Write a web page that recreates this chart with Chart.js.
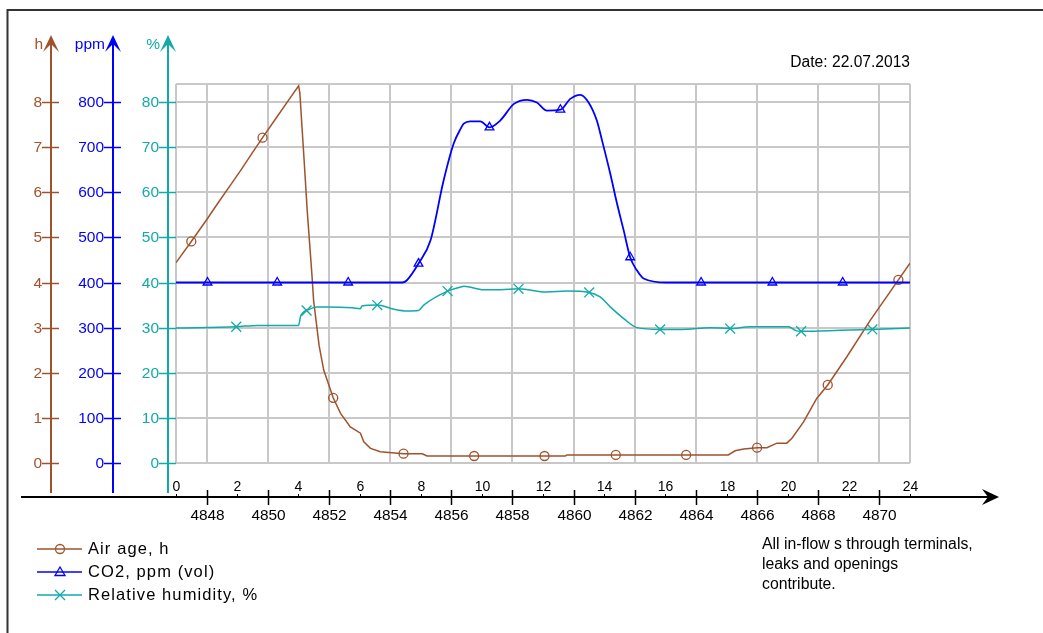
<!DOCTYPE html>
<html>
<head>
<meta charset="utf-8">
<script src="https://cdn.jsdelivr.net/npm/chart.js@4/dist/chart.umd.min.js"></script>
<style>
  html, body { margin: 0; padding: 0; background: #fff; }
  #wrap { width: 1043px; height: 633px; position: relative; }
</style>
</head>
<body>
<div id="wrap"><canvas id="chart"></canvas></div>
<script>
// hours since midnight
const ageHours  = [0, 0.5, 1.03, 1.4, 1.78, 2.11, 2.5, 2.83, 3.31, 3.7, 4.01, 4.05, 4.12, 4.18, 4.29, 4.45, 4.5, 4.68, 4.83, 5.14, 5.38, 5.7, 6.03, 6.14, 6.36, 6.68, 7.44, 8.05, 8.21, 12.73, 12.78, 18.06, 18.28, 18.56, 19.0, 19.32, 19.65, 19.97, 20.14, 20.52, 20.95, 21.31, 21.93, 22.7, 23.62, 24];
const ageValues = [4.44, 4.91, 5.42, 5.79, 6.16, 6.48, 6.88, 7.21, 7.68, 8.06, 8.36, 8.2, 7.44, 6.81, 5.6, 4.12, 3.6, 2.6, 2.06, 1.445, 1.1, 0.8, 0.66, 0.47, 0.325, 0.25, 0.206, 0.206, 0.155, 0.155, 0.18, 0.18, 0.27, 0.31, 0.34, 0.34, 0.44, 0.44, 0.55, 0.91, 1.43, 1.73, 2.35, 3.16, 4.06, 4.43];

const co2Hours  = [0, 7.4, 7.55, 7.93, 8.32, 8.75, 9.08, 9.3, 9.41, 9.62, 9.95, 10.25, 10.6, 11.05, 11.48, 11.8, 12.13, 12.57, 12.89, 13.22, 13.49, 13.76, 13.93, 14.2, 14.42, 14.64, 14.85, 15.07, 15.29, 16.05, 24];
const co2Values = [400, 400, 405, 442, 493, 626, 708, 740, 752, 757, 757, 744, 759, 796, 805, 799, 781, 783, 807, 816, 799, 759, 715, 641, 575, 515, 456, 427, 409, 400, 400];

const rhHours  = [0, 1.97, 2.65, 4.01, 4.07, 4.18, 4.27, 4.61, 4.94, 5.76, 6.03, 6.08, 6.58, 7.12, 7.55, 7.93, 8.1, 8.88, 9.3, 9.41, 10.06, 10.6, 11.2, 12.13, 12.78, 13.51, 13.87, 14.2, 14.64, 15.07, 15.83, 16.54, 17.47, 18.12, 18.77, 20.03, 20.25, 20.44, 21.72, 22.77, 24];
const rhValues = [29.9, 30.2, 30.5, 30.5, 32.4, 33.5, 33.8, 34.6, 34.6, 34.4, 34.2, 34.8, 35.0, 34.1, 33.7, 33.8, 35.0, 38.1, 39.0, 39.2, 38.4, 38.4, 38.6, 37.9, 38.1, 37.8, 36.8, 34.6, 32.0, 30.0, 29.6, 29.6, 30.0, 29.8, 30.2, 30.2, 29.4, 29.2, 29.4, 29.6, 29.9];

// marker positions (symbols along each curve)
const ageMarkHours  = [0.5, 2.83, 5.14, 7.44, 9.75, 12.05, 14.38, 16.68, 19.0, 21.31, 23.62];
const ageMarkValues = [4.91, 7.21, 1.445, 0.206, 0.155, 0.155, 0.18, 0.18, 0.34, 1.73, 4.06];
const co2MarkHours  = [1.03, 3.31, 5.63, 7.93, 10.25, 12.57, 14.85, 17.17, 19.5, 21.8];
const co2MarkValues = [400, 400, 400, 442, 744, 783, 456, 400, 400, 400];
const rhMarkHours  = [1.97, 4.27, 6.58, 8.88, 11.2, 13.51, 15.83, 18.12, 20.44, 22.77];
const rhMarkValues = [30.2, 33.8, 35.0, 38.1, 38.6, 37.8, 29.6, 29.8, 29.2, 29.6];

// axes
const hourLabels = [0, 2, 4, 6, 8, 10, 12, 14, 16, 18, 20, 22, 24];
const absLabels = [4848, 4850, 4852, 4854, 4856, 4858, 4860, 4862, 4864, 4866, 4868, 4870];
const absOffset = 4847;
const gridHours = [0, 1, 3, 5, 7, 9, 11, 13, 15, 17, 19, 21, 23, 24];
const gridRh = [0, 10, 20, 30, 40, 50, 60, 70, 80, 84];
const ageTicks = [0, 1, 2, 3, 4, 5, 6, 7, 8];
const co2Ticks = [0, 100, 200, 300, 400, 500, 600, 700, 800];
const rhTicks = [0, 10, 20, 30, 40, 50, 60, 70, 80];

const seriesNames = ['Air age, h', 'CO2, ppm (vol)', 'Relative humidity, %'];
const noteLines = ['All in-flow s through terminals,', 'leaks and openings', 'contribute.'];
const dateText = 'Date: 22.07.2013';

const BROWN = '#a0522d';
const BLUE = '#0000ff';
const TEAL = '#12aaa8';
const FONT = '"Liberation Sans", Arial, sans-serif';

const pts = (xs, ys) => xs.map((x, i) => ({ x: x, y: ys[i] }));

function lineSet(label, xs, ys, color, axis, width, mode) {
  return {
    label: label, data: pts(xs, ys), yAxisID: axis,
    borderColor: color, borderWidth: width, pointRadius: 0,
    cubicInterpolationMode: mode, fill: false
  };
}
function markSet(xs, ys, color, axis, style, r) {
  return {
    label: '', data: pts(xs, ys), yAxisID: axis, showLine: false,
    pointStyle: style, pointRadius: r, pointBorderWidth: 1.3,
    pointBorderColor: color, pointBackgroundColor: 'rgba(0,0,0,0)',
    borderColor: color
  };
}

function arrowUp(ctx, x, y, color) {
  ctx.fillStyle = color;
  ctx.beginPath();
  ctx.moveTo(x, y);
  ctx.lineTo(x + 8, y + 17);
  ctx.lineTo(x, y + 9);
  ctx.lineTo(x - 8, y + 17);
  ctx.closePath();
  ctx.fill();
}

function drawMark(ctx, style, x, y, color) {
  ctx.strokeStyle = color;
  ctx.lineWidth = 1.3;
  ctx.beginPath();
  if (style === 'circle') {
    ctx.arc(x, y, 4.5, 0, Math.PI * 2);
  } else if (style === 'triangle') {
    ctx.moveTo(x, y - 5);
    ctx.lineTo(x + 5, y + 3.5);
    ctx.lineTo(x - 5, y + 3.5);
    ctx.closePath();
  } else {
    ctx.moveTo(x - 5, y - 5); ctx.lineTo(x + 5, y + 5);
    ctx.moveTo(x + 5, y - 5); ctx.lineTo(x - 5, y + 5);
  }
  ctx.stroke();
}

const decor = {
  id: 'decor',
  afterDraw(chart) {
    const ctx = chart.ctx;
    const xs = chart.scales.x;
    ctx.save();

    // outer frame
    ctx.strokeStyle = '#333';
    ctx.lineWidth = 2;
    ctx.beginPath();
    ctx.moveTo(7.5, 633); ctx.lineTo(7.5, 10); ctx.lineTo(1043, 10);
    ctx.stroke();

    // left axes
    const axes = [
      { id: 'yAge', x: 51, color: BROWN, title: 'h', ticks: ageTicks },
      { id: 'yCo2', x: 113, color: BLUE, title: 'ppm', ticks: co2Ticks },
      { id: 'yRh', x: 168, color: TEAL, title: '%', ticks: rhTicks }
    ];
    axes.forEach(a => {
      const sc = chart.scales[a.id];
      ctx.strokeStyle = a.color;
      ctx.lineWidth = 2;
      ctx.beginPath();
      ctx.moveTo(a.x, 40); ctx.lineTo(a.x, 493);
      ctx.stroke();
      arrowUp(ctx, a.x, 35, a.color);
      ctx.fillStyle = a.color;
      ctx.font = '15.5px ' + FONT;
      ctx.textAlign = 'right';
      ctx.textBaseline = 'middle';
      ctx.fillText(a.title, a.x - 8, 45);
      a.ticks.forEach(v => {
        const y = Math.round(sc.getPixelForValue(v)) + 0.5;
        ctx.lineWidth = 1.5;
        ctx.beginPath();
        ctx.moveTo(a.x - 9, y); ctx.lineTo(a.x + 8, y);
        ctx.stroke();
        ctx.fillText(String(v), a.x - 9, y);
      });
    });

    // bottom time axis
    ctx.strokeStyle = '#000';
    ctx.fillStyle = '#000';
    ctx.lineWidth = 2;
    ctx.beginPath();
    ctx.moveTo(21, 497); ctx.lineTo(992, 497);
    ctx.stroke();
    ctx.beginPath();
    ctx.moveTo(999, 497); ctx.lineTo(982, 489); ctx.lineTo(988, 497); ctx.lineTo(982, 505);
    ctx.closePath();
    ctx.fill();

    ctx.textAlign = 'center';
    ctx.textBaseline = 'middle';
    ctx.font = '14px ' + FONT;
    hourLabels.forEach(h => {
      const x = Math.round(xs.getPixelForValue(h)) + 0.5;
      ctx.lineWidth = 1;
      ctx.beginPath(); ctx.moveTo(x, 494); ctx.lineTo(x, 497); ctx.stroke();
      ctx.fillText(String(h), x, 487);
    });
    ctx.font = '15.4px ' + FONT;
    absLabels.forEach(v => {
      const x = Math.round(xs.getPixelForValue(v - absOffset)) + 0.5;
      ctx.lineWidth = 1.5;
      ctx.beginPath(); ctx.moveTo(x, 490); ctx.lineTo(x, 505); ctx.stroke();
      ctx.fillText(String(v), x, 516);
    });

    // date
    ctx.textAlign = 'right';
    ctx.font = '15.6px ' + FONT;
    ctx.fillText(dateText, xs.right, 63);

    // note
    ctx.textAlign = 'left';
    ctx.font = '15.8px ' + FONT;
    noteLines.forEach((t, i) => ctx.fillText(t, 762, 545 + i * 20));

    // legend
    const legColors = [BROWN, BLUE, TEAL];
    const legMarks = ['circle', 'triangle', 'cross'];
    seriesNames.forEach((name, i) => {
      const y = 549 + i * 23;
      ctx.strokeStyle = legColors[i];
      ctx.lineWidth = 1.5;
      ctx.beginPath(); ctx.moveTo(37, y); ctx.lineTo(82, y); ctx.stroke();
      drawMark(ctx, legMarks[i], 60, y, legColors[i]);
      ctx.fillStyle = '#000';
      ctx.font = '16.5px ' + FONT;
      ctx.letterSpacing = '1.1px';
      ctx.fillText(name, 88, y);
      ctx.letterSpacing = '0px';
    });

    ctx.restore();
  }
};

new Chart(document.getElementById('chart'), {
  type: 'line',
  data: {
    datasets: [
      lineSet(seriesNames[2], rhHours, rhValues, TEAL, 'yRh', 1.5, 'monotone'),
      lineSet(seriesNames[1], co2Hours, co2Values, BLUE, 'yCo2', 1.8, 'monotone'),
      lineSet(seriesNames[0], ageHours, ageValues, BROWN, 'yAge', 1.5, 'default'),
      markSet(rhMarkHours, rhMarkValues, TEAL, 'yRh', 'crossRot', 7),
      markSet(co2MarkHours, co2MarkValues, BLUE, 'yCo2', 'triangle', 5),
      markSet(ageMarkHours, ageMarkValues, BROWN, 'yAge', 'circle', 4.5)
    ]
  },
  options: {
    responsive: true,
    maintainAspectRatio: false,
    animation: false,
    layout: { padding: { left: 176, right: 133, top: 84, bottom: 170 } },
    plugins: { legend: { display: false }, tooltip: { enabled: false } },
    elements: { line: { tension: 0 } },
    scales: {
      x: {
        type: 'linear', min: 0, max: 24,
        afterBuildTicks: s => { s.ticks = gridHours.map(v => ({ value: v })); },
        ticks: { display: false },
        grid: { color: '#c8c8c8', lineWidth: 2, drawTicks: false },
        border: { display: false }
      },
      yRh: {
        position: 'left', min: 0, max: 84,
        afterBuildTicks: s => { s.ticks = gridRh.map(v => ({ value: v })); },
        ticks: { display: false },
        grid: { color: '#c8c8c8', lineWidth: 2, drawTicks: false },
        border: { display: false }
      },
      yAge: { display: false, min: 0, max: 8.4 },
      yCo2: { display: false, min: 0, max: 840 }
    }
  },
  plugins: [decor]
});
</script>
</body>
</html>
